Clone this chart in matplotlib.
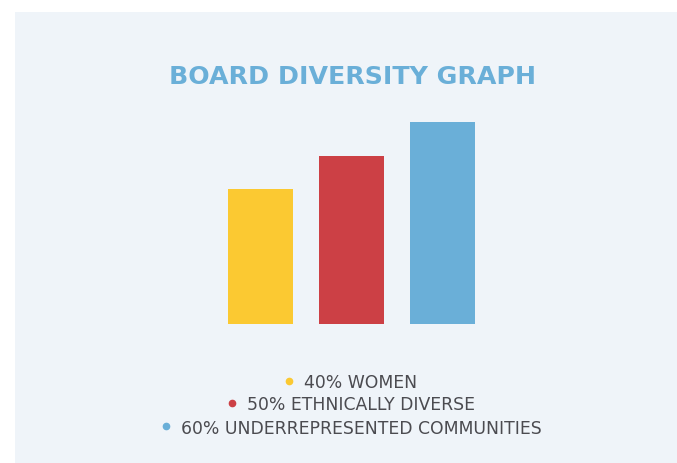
import matplotlib
matplotlib.use("Agg")
import matplotlib.pyplot as plt
from matplotlib.patches import Rectangle

# data
categories = ["40% WOMEN", "50% ETHNICALLY DIVERSE", "60% UNDERREPRESENTED COMMUNITIES"]
values = [40, 50, 60]
colors = ["#FBC932", "#CC4045", "#6AAFD8"]

W, H = 677, 464
fig = plt.figure(figsize=(W / 100, H / 100), dpi=100)
fig.patch.set_facecolor("white")

# light panel behind everything
fig.patches.append(Rectangle((15 / W, 0), 1 - 15 / W, 1 - 13 / H,
                             transform=fig.transFigure, facecolor="#EFF4F9",
                             edgecolor="none", zorder=-5))

# bar axes: baseline at y=325px, 91px between bar centres
ax = fig.add_axes([200 / W, (H - 325) / H, 303 / W, 202 / H])
ax.bar(range(len(values)), values, width=0.714, color=colors)
ax.set_xlim(-0.665, 2.665)
ax.set_ylim(0, 60)
ax.axis("off")
ax.patch.set_alpha(0)

fig.text(352.5 / W, 1 - 77 / H, "BOARD DIVERSITY GRAPH", ha="center", va="center",
         fontsize=18.2, fontweight="bold", color="#6AAFD8", family="DejaVu Sans")

# legend lines, each centred with its dot
baselines = [387.5, 409.5, 434.5]
dot_y = [381.5, 403.5, 427]
fig.canvas.draw()
r = fig.canvas.get_renderer()
for lab, c, yb, yd in zip(categories, colors, baselines, dot_y):
    t = fig.text(0, 1 - yb / H, lab, ha="left", va="baseline", fontsize=12.4,
                 color="#4B4B50", family="DejaVu Sans")
    w = t.get_window_extent(renderer=r).width
    left = 353.5 - (15 + w) / 2
    t.set_x((left + 15) / W)
    fig.add_artist(plt.Line2D([left / W], [1 - yd / H], marker="o", markersize=4.5,
                              color=c, linestyle="none", transform=fig.transFigure))

fig.savefig("out.png", dpi=100)
